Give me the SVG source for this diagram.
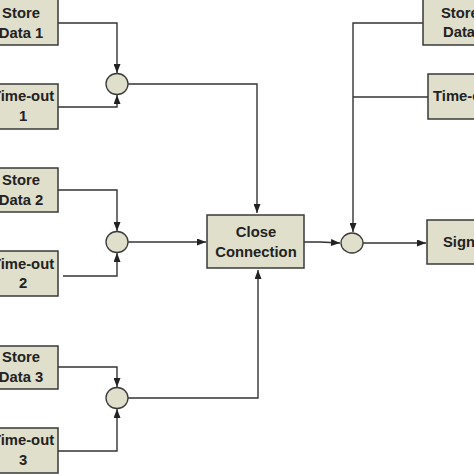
<svg xmlns="http://www.w3.org/2000/svg" width="474" height="474" viewBox="0 0 474 474">
<style>
.box{fill:#dfdfcb;stroke:#3a3a3a;stroke-width:1.5}
.j{fill:#dfdfcb;stroke:#3a3a3a;stroke-width:1.3}
.t{font-family:"Liberation Sans",Arial,sans-serif;font-weight:bold;font-size:14.8px;fill:#222}
.c{text-anchor:middle}
.w{fill:none;stroke:#333;stroke-width:1.4}
</style>
<defs>
<marker id="a" viewBox="0 0 9 7" refX="9" refY="3.5" markerWidth="9" markerHeight="7" markerUnits="userSpaceOnUse" orient="auto">
<path d="M0,0L9,3.5L0,7z" fill="#222"/>
</marker>
</defs>
<rect width="474" height="474" fill="#fff"/>
<g id="connectors">
<path class="w" d="M58,23H117V73" marker-end="url(#a)"/>
<path class="w" d="M58,107H117V95" marker-end="url(#a)"/>
<path class="w" d="M128,84H257V213" marker-end="url(#a)"/>
<path class="w" d="M58,190H117V231" marker-end="url(#a)"/>
<path class="w" d="M63,276H117V253" marker-end="url(#a)"/>
<path class="w" d="M128,242H206" marker-end="url(#a)"/>
<path class="w" d="M58,367H117V387" marker-end="url(#a)"/>
<path class="w" d="M58,451H117V409" marker-end="url(#a)"/>
<path class="w" d="M128,398H258V270" marker-end="url(#a)"/>
<path class="w" d="M304,242H320L340,243" marker-end="url(#a)"/>
<path class="w" d="M423,23H353V232" marker-end="url(#a)"/>
<path class="w" d="M428,97H353"/>
<path class="w" d="M363,243H426" marker-end="url(#a)"/>
</g>
<g id="store1"><rect class="box" x="-14" y="-2" width="72" height="47"/><text class="t c" x="21" y="18">Store</text><text class="t c" x="21" y="38">Data 1</text></g>
<g id="timeout1"><rect class="box" x="-14" y="84" width="72" height="45"/><text class="t c" x="23" y="101">Time-out</text><text class="t c" x="23" y="121">1</text></g>
<g id="store2"><rect class="box" x="-14" y="168" width="72" height="44"/><text class="t c" x="21" y="185">Store</text><text class="t c" x="21" y="205">Data 2</text></g>
<g id="timeout2"><rect class="box" x="-14" y="251" width="72" height="45"/><text class="t c" x="23" y="269">Time-out</text><text class="t c" x="23" y="288">2</text></g>
<g id="store3"><rect class="box" x="-14" y="346" width="72" height="43"/><text class="t c" x="21" y="362">Store</text><text class="t c" x="21" y="382">Data 3</text></g>
<g id="timeout3"><rect class="box" x="-14" y="428" width="72" height="45"/><text class="t c" x="23" y="445">Time-out</text><text class="t c" x="23" y="465">3</text></g>
<g id="join1"><ellipse class="j" cx="117" cy="84" rx="11" ry="10.5"/></g>
<g id="join2"><ellipse class="j" cx="117" cy="242" rx="11" ry="10.5"/></g>
<g id="join3"><ellipse class="j" cx="117" cy="398" rx="11" ry="10.5"/></g>
<g id="close"><rect class="box" x="207" y="215" width="97" height="53"/><text class="t c" x="256" y="237">Close</text><text class="t c" x="256" y="257">Connection</text></g>
<g id="join4"><ellipse class="j" cx="352" cy="243" rx="11" ry="10"/></g>
<g id="store4"><rect class="box" x="423" y="-2" width="80" height="47"/><text class="t" x="441" y="18">Store</text><text class="t" x="443" y="37">Data</text></g>
<g id="timeout4"><rect class="box" x="428" y="74" width="80" height="45"/><text class="t" x="433" y="101">Time-out</text></g>
<g id="signal"><rect class="box" x="427" y="220" width="80" height="44"/><text class="t" x="443" y="247">Signal</text></g>
</svg>
